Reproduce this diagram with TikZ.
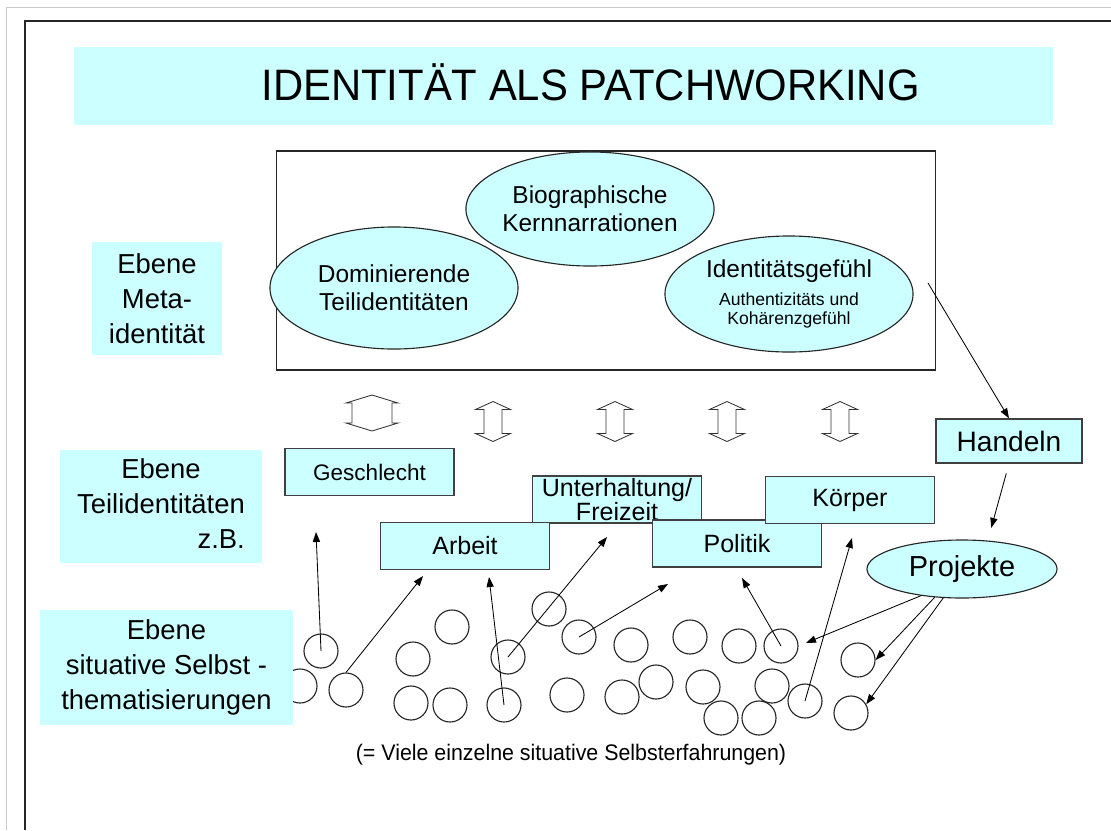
\documentclass[tikz,border=0pt]{standalone}
\usepackage{fontspec}
\setmainfont{Liberation Sans}
\usetikzlibrary{arrows.meta, shapes.geometric}
\definecolor{patch}{RGB}{204,255,255}
\definecolor{framegray}{RGB}{200,200,200}

\tikzset{
  lbl/.style={fill=patch, inner sep=0pt, font=\fontsize{19.5}{25}\selectfont},
  tbox/.style={draw=black!75, line width=0.9pt, fill=patch, minimum width=4.22cm,
    minimum height=1.18cm, inner sep=0pt, align=center, font=\fontsize{17.8}{15}\selectfont},
  oval/.style={ellipse, draw=black!85, line width=0.8pt, fill=patch, inner sep=0pt,
    align=center, font=\fontsize{17.4}{20}\selectfont},
  blob/.style={circle, draw=black!85, line width=0.8pt, minimum size=0.85cm, inner sep=0pt},
  arr/.style={-{Triangle[length=0.25cm, width=0.18cm]}, line width=0.6pt},
  dbl/.style={draw=black!80, line width=0.6pt},
}

% hollow up-down arrow: centre x, centre y, half width, half shaft, half length
\newcommand{\dblarr}[5]{%
  \draw[dbl] (#1,#2) ++(0,-#5) -- ++(#3,8) -- ++({-(#3-#4)},0) -- ++(0,{2*#5-16})
    -- ++({#3-#4},0) -- ++(-#3,8) -- ++(-#3,-8) -- ++({#3-#4},0)
    -- ++(0,{-(2*#5-16)}) -- ++({-(#3-#4)},0) -- cycle;}

\begin{document}
\begin{tikzpicture}[x=0.025cm, y=-0.025cm]
  \useasboundingbox (0,0) rectangle (1111,830);
  \draw[framegray, line width=0.6pt] (6,830) -- (6,7) -- (1111,7);
  \draw[black!85, line width=1.4pt] (25,830) -- (25,21) -- (1111,21);

  % title
  \node[fill=patch, minimum width=24.475cm, minimum height=1.95cm] (title) at (563.5,86) {};
  \node[anchor=base, font=\fontsize{31.3}{36}\selectfont] (titletext) at (590.5,100)
    {\scalebox{0.95}[1]{IDENTITÄT ALS PATCHWORKING}};

  % meta level
  \node[draw=black!85, line width=0.8pt, minimum width=16.45cm, minimum height=5.475cm,
    inner sep=0pt] (meta) at (606,260.5) {};
  \node[oval, minimum width=6.2cm, minimum height=2.85cm] (bio) at (590,209)
    {Biographische\\Kernnarrationen};
  \node[oval, minimum width=6.2cm, minimum height=3.05cm] (dom) at (394,288)
    {Dominierende\\Teilidentitäten};
  \node[oval, minimum width=6.2cm, minimum height=2.9cm] (gefuehl) at (789,294)
    {Identitätsgefühl\\[0pt]{\fontsize{12.5}{13.5}\selectfont Authentizitäts und}\\[-7pt]
     {\fontsize{12.5}{13.5}\selectfont Kohärenzgefühl}};

  % small situations
  \foreach \n/\x/\y in {1/321/651, 2/300/686, 3/346/690, 4/452/627, 5/413/659,
      6/411/703, 7/450/705, 8/549/609, 9/508/657, 10/504/705, 11/579/637,
      12/567/695, 13/631/645, 14/622/697, 15/656/682, 16/690/637, 17/739/646,
      18/703/687, 19/781/646, 20/721/718, 21/759/718, 22/772/686, 23/805/701,
      24/858/660, 25/851/713}
    \node[blob] (c\n) at (\x,\y) {};

  % level labels
  \node[lbl, align=center, minimum width=3.25cm, minimum height=2.83cm] (lmeta)
    at (157,298.5) {Ebene\\Meta-\\identität};
  \node[lbl, minimum width=5.05cm, minimum height=2.83cm] (lteil) at (161,506.5)
    {\begin{tabular}{@{}c@{}}Ebene\\Teilidentitäten\\\multicolumn{1}{@{}r@{}}{z.B.}\end{tabular}};
  \node[lbl, align=center, minimum width=6.33cm, minimum height=2.88cm] (lsit)
    at (166.5,667.5) {Ebene\\situative Selbst -\\thematisierungen};

  % exchange between levels
  \dblarr{372}{413}{26}{20}{18}
  \foreach \x in {493,615,727,840}{
    \dblarr{\x}{421.5}{17.5}{9}{20}
  }

  % partial identities
  \node[tbox, font=\fontsize{16}{18}\selectfont] (geschlecht) at (369.5,472) {Geschlecht};
  \node[tbox] (freizeit) at (617,499.5) {Unterhaltung/\\Freizeit};
  \node[tbox] (arbeit) at (465,546) {Arbeit};
  \node[tbox] (politik) at (737,543.5) {Politik};
  \node[tbox] (koerper) at (850,500) {Körper};
  \node[tbox, minimum width=3.65cm, minimum height=1.1cm, font=\fontsize{20}{24}\selectfont]
    (handeln) at (1009,441) {Handeln};
  \node[oval, minimum width=4.75cm, minimum height=1.45cm, font=\fontsize{20.6}{24}\selectfont]
    (projekte) at (962,569) {Projekte};

  \node[font=\fontsize{16}{19}\selectfont] (caption) at (571,755)
    {\scalebox{0.95}[1]{(= Viele einzelne situative Selbsterfahrungen)}};

  % arrows
  \coordinate (t1) at (316,532);
  \coordinate (t2) at (423,576);
  \coordinate (t3) at (489,577);
  \coordinate (t4) at (607,537);
  \coordinate (t5) at (668,584);
  \coordinate (t6) at (742,578);
  \coordinate (t7) at (852,538);
  \coordinate (h0) at (928,283);
  \draw[arr] (c1.center) -- (t1);
  \draw[arr] (c3.north) -- (t2);
  \draw[arr] (c10.center) -- (t3);
  \draw[arr] (c9.center) -- (t4);
  \draw[arr] (c11.center) -- (t5);
  \draw[arr] (c19.center) -- (t6);
  \draw[arr] (c23.center) -- (t7);
  \draw[arr] (h0) -- (handeln.north);
  \draw[arr, shorten <=0.25cm, shorten >=0.3cm] (handeln.south) -- ([xshift=0.65cm]projekte.north);
  \draw[arr, shorten >=0.2cm] (projekte.213) -- (c19.east);
  \draw[arr] (projekte.226) -- (c24.east);
  \draw[arr] (projekte.237) -- (c25.30);
\end{tikzpicture}
\end{document}
